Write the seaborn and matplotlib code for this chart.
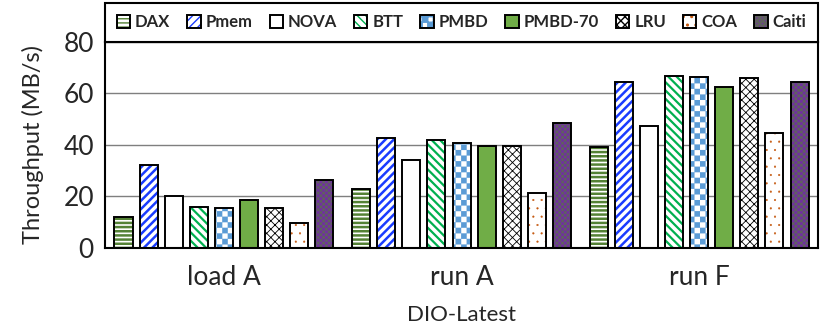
import numpy as np
import pandas as pd
import seaborn as sns
import matplotlib.pyplot as plt
import matplotlib.hatch as mhatch
from matplotlib.path import Path
from matplotlib.colors import to_rgba

workloads = ['load A', 'run A', 'run F']
systems = ['DAX', 'Pmem', 'NOVA', 'BTT', 'PMBD', 'PMBD-70', 'LRU', 'COA', 'Caiti']

dax = [12.1, 23.1, 39.4]
pmem = [32.1, 42.8, 64.3]
nova = [20.0, 34.3, 47.3]
btt = [16.0, 42.1, 66.9]
pmbd = [15.6, 40.7, 66.3]
pmbd70 = [18.6, 39.8, 62.7]
lru = [15.7, 39.5, 66.2]
coa = [9.8, 21.4, 44.6]
caiti = [26.3, 48.4, 64.4]
values = [dax, pmem, nova, btt, pmbd, pmbd70, lru, coa, caiti]

# long form table for seaborn
rows = [(w, s, v) for s, vals in zip(systems, values) for w, v in zip(workloads, vals)]
df = pd.DataFrame(rows, columns=['workload', 'system', 'throughput'])

# bar styles (Excel-like patterns)
faces = ['white', 'white', 'white', 'white', 'white', '#70ad47', 'white', 'white', '#7030a0']
hatches = ['----', '////', '', '\\\\\\\\', 'O', '', 'xxxx', '..', 'OO']
hatch_colors = ['#548235', '#1a3cff', 'black', '#00b050', '#5b9bd5', 'black', 'black', '#c55a11', '#606060']
hatch_lws = [1.8, 1.8, 1.0, 1.6, 0.1, 1.0, 0.6, 0.3, 0.0]


# checkerboard pattern, takes the place of the 'O' (large circle) hatch
class CheckerHatch(mhatch.HatchPatternBase):
    def __init__(self, hatch, density):
        self.num_cells = hatch.count('O') * density * 3 // 2
        self.num_vertices = 2 * self.num_cells ** 2 * 5

    def set_vertices_and_codes(self, vertices, codes):
        n = self.num_cells
        step = 1.0 / n
        half = step / 2
        sq = np.array([[0, 0], [half, 0], [half, half], [0, half], [0, 0]])
        parts = []
        for i in range(n):
            for j in range(n):
                parts.append(sq + [i * step, j * step])
                parts.append(sq + [i * step + half, j * step + half])
        vertices[:] = np.concatenate(parts)
        codes[:] = np.tile([Path.MOVETO, Path.LINETO, Path.LINETO, Path.LINETO, Path.CLOSEPOLY], 2 * n * n)


mhatch._hatch_types = [CheckerHatch if t is mhatch.LargeCircles else t for t in mhatch._hatch_types]

sns.set_style('white')
plt.rcParams['font.family'] = ['Lato', 'DejaVu Sans']

fig, ax = plt.subplots(figsize=(8.31, 3.33), dpi=100)
fig.subplots_adjust(left=0.1264, right=0.9844, bottom=0.2553, top=0.8739)

sns.barplot(data=df, x='workload', y='throughput', hue='system', order=workloads,
            hue_order=systems, width=0.95, gap=0.28, errorbar=None, legend=False, ax=ax)

for cont, fc, h, hc, hlw in zip(ax.containers, faces, hatches, hatch_colors, hatch_lws):
    for bar in cont:
        bar.set_facecolor(fc)
        bar.set_edgecolor('black')
        bar.set_linewidth(1.4)
        bar.set_hatch(h)
        if hasattr(bar, 'set_hatchcolor'):
            bar.set_hatchcolor(hc)
        else:
            bar._hatch_color = to_rgba(hc)
        if hasattr(bar, 'set_hatch_linewidth'):
            bar.set_hatch_linewidth(hlw)
        else:
            bar._hatch_linewidth = hlw

ax.set_ylim(0, 80)
ax.set_yticks([0, 20, 40, 60, 80])
ax.set_xlim(-0.5, 2.5)
ax.yaxis.grid(True, color='#7f7f7f', linewidth=1.0)
ax.set_axisbelow(True)
for sp in ax.spines.values():
    sp.set_visible(True)
    sp.set_color('black')
    sp.set_linewidth(1.5)

ax.tick_params(axis='y', length=0, pad=8, labelsize=19)
ax.tick_params(axis='x', which='major', length=0, pad=12, labelsize=19)
ax.set_xticks([-0.5, 0.5, 1.5, 2.5], minor=True)
ax.tick_params(axis='x', which='minor', length=10, width=1.5, direction='out', color='black')

ax.set_xlabel('DIO-Latest', fontsize=16, labelpad=11)
ax.set_ylabel('Throughput (MB/s)', fontsize=17, labelpad=14)

leg = ax.legend(ax.containers, systems, loc='lower left', bbox_to_anchor=(0, 1, 1, 0.18),
                mode='expand', ncol=9, borderaxespad=0, fancybox=False, framealpha=1,
                edgecolor='black', handlelength=0.8, handleheight=0.8, handletextpad=0.3,
                borderpad=0.7, prop={'weight': 'bold', 'size': 12})
leg.get_frame().set_linewidth(1.5)

plt.savefig('out.png', dpi=100)
